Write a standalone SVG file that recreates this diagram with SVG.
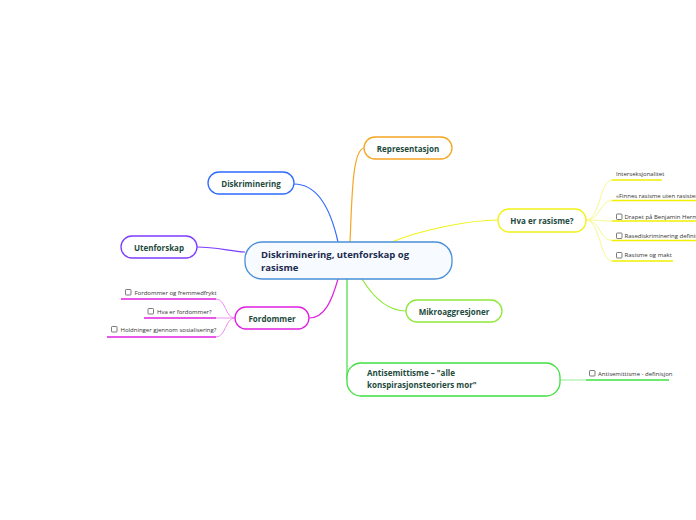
<svg xmlns="http://www.w3.org/2000/svg" width="696" height="520" viewBox="0 0 696 520">
<style>
.node{fill:#ffffff;stroke-width:1.3}
.lbl{font-family:"Open Sans","Noto Sans",sans-serif;font-weight:bold;font-size:8px;fill:#1d4a3c}
.sub{font-family:"Open Sans","Noto Sans",sans-serif;font-size:6px;fill:#333333}
.cb{fill:#ffffff;stroke:#444444;stroke-width:0.7}
.c{fill:none;stroke-width:1.2}
</style>
<rect width="696" height="520" fill="#ffffff"/>
<g id="connectors">
<path class="c" stroke="#2f6bff" d="M294,184 C320,184 332,215 338,242"/>
<path class="c" stroke="#f5a623" d="M364,148 C352,150 352,200 350,242"/>
<path class="c" stroke="#7b3dff" d="M197,247 C215,247 230,251 245,252"/>
<path class="c" stroke="#f2f21a" d="M392,242 C420,230 470,220 498,220"/>
<path class="c" stroke="#e020e0" d="M338,279 C332,300 325,318 309,318"/>
<path class="c" stroke="#3ee03e" d="M347,279 L347,380"/>
<path class="c" stroke="#8ee83a" d="M362,279 C375,300 390,311 406,311"/>
<g stroke="#f8f890" fill="none" stroke-width="1">
<path d="M586,220 C600,220 600,180 612,180"/>
<path d="M586,220 C600,220 600,200.5 612,200.5"/>
<path d="M586,220 C600,220 600,221 612,221"/>
<path d="M586,220 C600,220 600,240.5 612,240.5"/>
<path d="M586,220 C600,220 600,261 612,261"/>
</g>
<g stroke="#f0f000" fill="none" stroke-width="1.5">
<path d="M612,180 L662,180"/>
<path d="M612,200.5 L696,200.5"/>
<path d="M612,221 L696,221"/>
<path d="M612,240.5 L696,240.5"/>
<path d="M612,261 L673,261"/>
</g>
<g stroke="#f090f0" fill="none" stroke-width="1">
<path d="M235,318 C225,318 226,299 216,299"/>
<path d="M235,318 L216,318"/>
<path d="M235,318 C225,318 226,337 216,337"/>
</g>
<g stroke="#e020e0" fill="none" stroke-width="1.5">
<path d="M121,299 L216,299"/>
<path d="M144,318 L216,318"/>
<path d="M107,337 L216,337"/>
</g>
<path d="M560,380 L586,380" stroke="#a8f0a8" stroke-width="1.2" fill="none"/>
<path d="M586,380 L669,380" stroke="#3ee03e" stroke-width="1.5" fill="none"/>
</g>
<g id="central">
<rect x="245" y="242" width="207" height="37" rx="17" fill="#f7fbff" stroke="#4a90d9" stroke-width="1.3"/>
<text class="lbl" style="font-size:9.5px;fill:#1b2a4e" x="261" y="258">Diskriminering, utenforskap og</text>
<text class="lbl" style="font-size:9.5px;fill:#1b2a4e" x="261" y="271">rasisme</text>
</g>
<g id="diskriminering">
<rect class="node" x="208" y="172" width="86" height="22" rx="11" stroke="#2f6bff"/>
<text class="lbl" x="251" y="186.5" text-anchor="middle">Diskriminering</text>
</g>
<g id="representasjon">
<rect class="node" x="364" y="137" width="88" height="22" rx="11" stroke="#f5a623"/>
<text class="lbl" x="408" y="151.5" text-anchor="middle">Representasjon</text>
</g>
<g id="utenforskap">
<rect class="node" x="121" y="236" width="76" height="22" rx="11" stroke="#7b3dff"/>
<text class="lbl" x="159" y="250.5" text-anchor="middle">Utenforskap</text>
</g>
<g id="hva-er-rasisme">
<rect class="node" x="498" y="209" width="88" height="23" rx="11" stroke="#f2f21a"/>
<text class="lbl" x="542" y="223.5" text-anchor="middle">Hva er rasisme?</text>
</g>
<g id="fordommer">
<rect class="node" x="235" y="307" width="74" height="22" rx="11" stroke="#e020e0"/>
<text class="lbl" x="272" y="321.5" text-anchor="middle">Fordommer</text>
</g>
<g id="mikroaggresjoner">
<rect class="node" x="406" y="300" width="96" height="22" rx="11" stroke="#8ee83a"/>
<text class="lbl" x="454" y="314.5" text-anchor="middle">Mikroaggresjoner</text>
</g>
<g id="antisemittisme">
<rect class="node" x="347" y="363" width="213" height="33" rx="14" stroke="#3ee03e"/>
<text class="lbl" x="367" y="376">Antisemittisme – "alle</text>
<text class="lbl" x="367" y="388">konspirasjonsteoriers mor"</text>
</g>
<g id="rasisme-subtopics">
<text class="sub" x="616" y="176">Interseksjonalitet</text>
<text class="sub" x="616" y="198">«Finnes rasisme uten rasister»</text>
<rect class="cb" x="616.5" y="214" width="5.5" height="5.5" rx="0.8"/>
<text class="sub" x="624.5" y="218.8">Drapet på Benjamin Hermansen</text>
<rect class="cb" x="616.5" y="233" width="5.5" height="5.5" rx="0.8"/>
<text class="sub" x="624.5" y="237.8">Rasediskriminering definisjon</text>
<rect class="cb" x="616.5" y="252.5" width="5.5" height="5.5" rx="0.8"/>
<text class="sub" x="624.5" y="257.3">Rasisme og makt</text>
</g>
<g id="fordommer-subtopics">
<rect class="cb" x="125.5" y="289.5" width="5.5" height="5.5" rx="0.8"/>
<text class="sub" x="134.5" y="294.5">Fordommer og fremmedfrykt</text>
<rect class="cb" x="148" y="308.5" width="5.5" height="5.5" rx="0.8"/>
<text class="sub" x="157" y="313.5">Hva er fordommer?</text>
<rect class="cb" x="111.5" y="326.5" width="5.5" height="5.5" rx="0.8"/>
<text class="sub" x="120.5" y="331.5">Holdninger gjennom sosialisering?</text>
</g>
<g id="antisemittisme-subtopics">
<rect class="cb" x="589.5" y="370.5" width="5.5" height="5.5" rx="0.8"/>
<text class="sub" x="598" y="375.5">Antisemittisme - definisjon</text>
</g>
</svg>
